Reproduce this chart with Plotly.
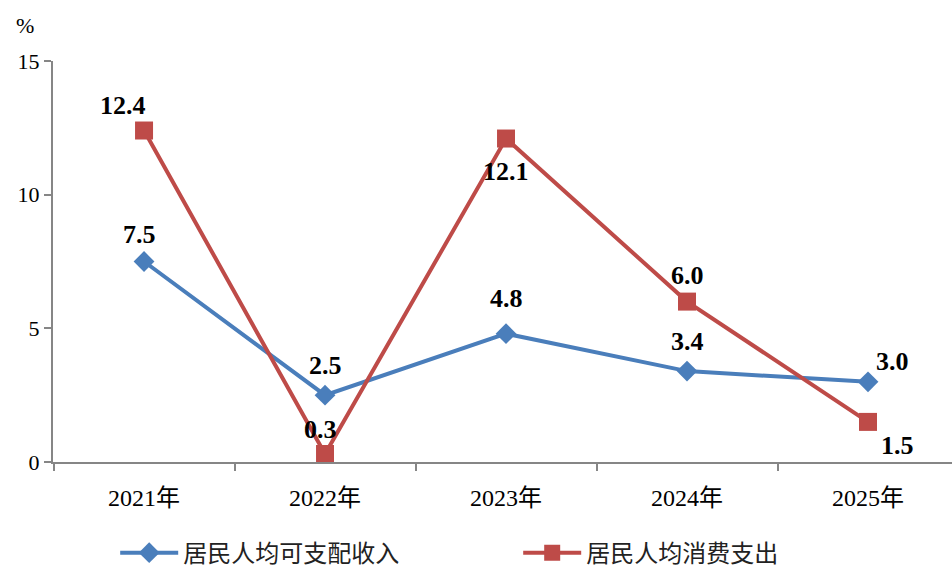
import plotly.graph_objects as go

years = ["2021年", "2022年", "2023年", "2024年", "2025年"]
income = [7.5, 2.5, 4.8, 3.4, 3.0]
spend = [12.4, 0.3, 12.1, 6.0, 1.5]
income_name = "居民人均可支配收入"
spend_name = "居民人均消费支出"

blue = "#4a7ebb"
red = "#be4b48"
font_fam = "Liberation Serif, Noto Sans CJK SC, serif"

fig = go.Figure()
fig.add_trace(go.Scatter(x=years, y=income, name=income_name, mode="lines+markers",
                         line=dict(color=blue, width=4),
                         marker=dict(symbol="diamond", size=16, color=blue)))
fig.add_trace(go.Scatter(x=years, y=spend, name=spend_name, mode="lines+markers",
                         line=dict(color=red, width=4),
                         marker=dict(symbol="square", size=18, color=red)))

# label offsets (pixels) per point
inc_off = [(-5, 27), (0, 30), (0, 35), (0, 30), (24, 20)]
sp_off = [(-21, 25), (-5, 24), (0, -33), (0, 26), (29, -24)]
for i, (yr, v) in enumerate(zip(years, income)):
    fig.add_annotation(x=yr, y=v, text=f"{v:.1f}", showarrow=False,
                       xshift=inc_off[i][0], yshift=inc_off[i][1],
                       font=dict(family=font_fam, size=26, color="black", weight="bold"))
for i, (yr, v) in enumerate(zip(years, spend)):
    fig.add_annotation(x=yr, y=v, text=f"{v:.1f}", showarrow=False,
                       xshift=sp_off[i][0], yshift=sp_off[i][1],
                       font=dict(family=font_fam, size=26, color="black", weight="bold"))

fig.add_annotation(xref="paper", yref="paper", x=-0.031, y=1.0, yshift=36,
                   text="%", showarrow=False, xanchor="center", yanchor="middle",
                   font=dict(family=font_fam, size=22, color="black"))

fig.update_layout(
    width=952, height=572,
    margin=dict(l=53, r=0, t=61, b=110, autoexpand=False),
    paper_bgcolor="white", plot_bgcolor="white",
    font=dict(family=font_fam, size=22, color="black"),
    showlegend=True,
    legend=dict(orientation="h", xref="container", yref="container",
                x=0.121, xanchor="left", y=0.033, yanchor="middle",
                font=dict(size=24, color="#222222"), itemwidth=58,
                entrywidth=330, entrywidthmode="pixels"),
    xaxis=dict(showline=True, linecolor="#868686", linewidth=2, showgrid=False,
               ticks="outside", tickcolor="#868686", ticklen=7, tickwidth=2,
               tickson="boundaries", range=[-0.503, 4.464], automargin=False,
               ticklabelstandoff=13, tickfont=dict(size=24)),
    yaxis=dict(range=[0, 15], tickvals=[0, 5, 10, 15], showline=True, linecolor="#868686",
               linewidth=2, showgrid=False, ticks="outside", tickcolor="#868686",
               ticklen=7, tickwidth=2, zeroline=False, automargin=False),
)

fig.write_html("out.html", config={"displayModeBar": False},
               post_script="document.body.style.margin='0';")
